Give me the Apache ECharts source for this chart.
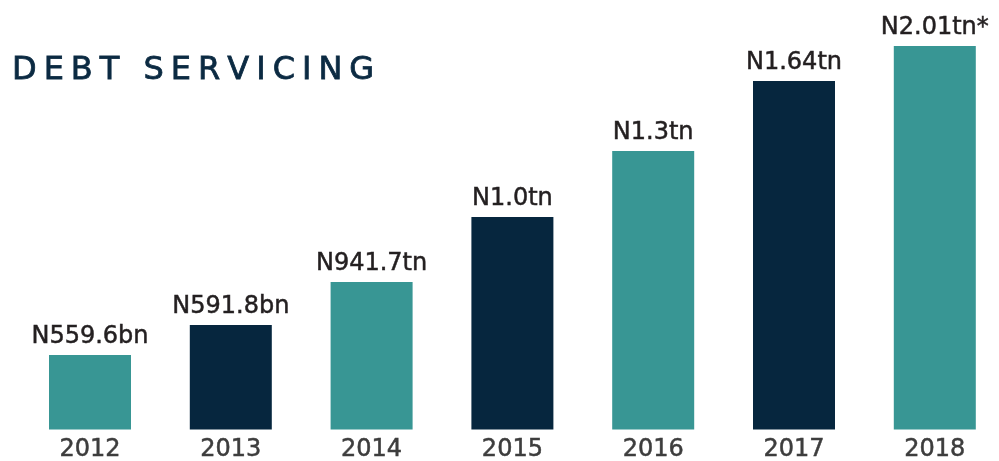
<!DOCTYPE html>
<html>
<head>
<meta charset="utf-8">
<script src="https://cdn.jsdelivr.net/npm/echarts@6/dist/echarts.min.js"></script>
<style>
  html, body { margin: 0; padding: 0; background: #fff; }
  #chart { width: 999px; height: 461px; }
</style>
</head>
<body>
<div id="chart"></div>
<script>
// years along the bottom
const years = ["2012", "2013", "2014", "2015", "2016", "2017", "2018"];
// bar heights as drawn (trillions)
const debtValues = [0.39, 0.548, 0.773, 1.114, 1.46, 1.827, 2.01];
// text printed above each bar
const debtLabels = ["N559.6bn", "N591.8bn", "N941.7tn", "N1.0tn", "N1.3tn", "N1.64tn", "N2.01tn*"];

const titleText = "DEBT SERVICING";

const teal = "#389694";
const navy = "#06263e";

const myChart = echarts.init(document.getElementById("chart"));

const data = debtValues.map((v, i) => {
  return {
    value: v,
    itemStyle: { color: i % 2 === 0 ? teal : navy }
  };
});

// wide-tracked title: one rich token per letter
const spaced = titleText.split("").map(c => `{t|${c}}`).join("");

myChart.setOption({
  animation: false,
  title: {
    text: spaced,
    left: 7,
    top: 50,
    textStyle: {
      fontWeight: "normal",
      rich: {
        t: {
          color: "#0b2a42",
          fontFamily: "DejaVu Sans",
          fontWeight: "normal",
          fontSize: 32,
          // slight stroke to mimic a medium weight
          textBorderColor: "#0b2a42",
          textBorderWidth: 0.8,
          padding: [0, 7, 0, 0]
        }
      }
    }
  },
  grid: {
    left: 19.6,
    width: 985.6,
    top: 46,
    bottom: 31.5,
    outerBoundsMode: "none"
  },
  xAxis: {
    type: "category",
    data: years,
    axisLine: { show: false },
    axisTick: { show: false },
    axisLabel: {
      color: "#3d3d3d",
      fontFamily: "DejaVu Sans",
      fontSize: 24,
      textBorderColor: "#3d3d3d",
      textBorderWidth: 0.5,
      margin: 8
    }
  },
  yAxis: {
    type: "value",
    min: 0,
    max: 2.01,
    show: false,
    splitLine: { show: false }
  },
  series: [
    {
      type: "bar",
      data: data,
      barWidth: 82,
      label: {
        show: true,
        position: "top",
        distance: 6,
        color: "#231f20",
        fontFamily: "DejaVu Sans",
        fontSize: 24,
        textBorderColor: "#231f20",
        textBorderWidth: 0.5,
        formatter: (p) => debtLabels[p.dataIndex]
      }
    }
  ]
});
</script>
</body>
</html>
